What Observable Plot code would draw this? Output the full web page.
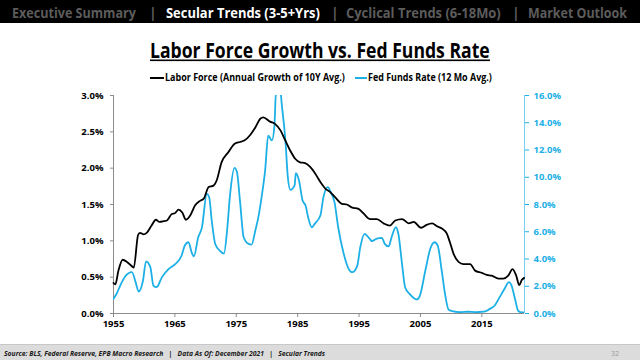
<!DOCTYPE html>
<html>
<head>
<meta charset="utf-8">
<script src="https://cdn.jsdelivr.net/npm/d3@7"></script>
<script src="https://cdn.jsdelivr.net/npm/@observablehq/plot@0.6"></script>
<style>
  html, body { margin: 0; padding: 0; background: #fff; }
  #page { position: relative; width: 640px; height: 360px; overflow: hidden; background: #fff; font-family: "Open Sans", "Noto Sans", sans-serif; }
  #chrome { position: absolute; left: 0; top: 0; }
  #chart { position: absolute; left: 0; top: 85px; }
  #footer { position: absolute; left: 0; top: 344px; width: 640px; height: 16px; background: #dcdcdc; border-top: 1px solid #c8c8c8; }
</style>
</head>
<body>
<div id="page">
  <svg id="chrome" width="640" height="90" xmlns="http://www.w3.org/2000/svg">
    <rect x="0" y="0" width="640" height="23" fill="#000"></rect>
    <g font-family="Open Sans, Noto Sans, sans-serif" font-weight="700" font-size="14">
      <text class="fit" data-w="124" x="12" y="18" fill="#5c5c5c">Executive Summary</text>
      <text x="149" y="18" fill="#5c5c5c">|</text>
      <text class="fit" data-w="154" x="166" y="18" fill="#ffffff">Secular Trends (3-5+Yrs)</text>
      <text x="331" y="18" fill="#5c5c5c">|</text>
      <text class="fit" data-w="155" x="346" y="18" fill="#5c5c5c">Cyclical Trends (6-18Mo)</text>
      <text x="512" y="18" fill="#5c5c5c">|</text>
      <text class="fit" data-w="99" x="528" y="18" fill="#5c5c5c">Market Outlook</text>
    </g>
    <text class="fit" data-w="340" x="150" y="58" font-family="Open Sans, Noto Sans, sans-serif" font-weight="700" font-size="21" fill="#000">Labor Force Growth vs. Fed Funds Rate</text>
    <rect x="150" y="59.5" width="340" height="1.6" fill="#000"></rect>
    <line x1="150" y1="78" x2="164" y2="78" stroke="#000" stroke-width="2"></line>
    <text class="fit" data-w="180" x="165" y="81.5" font-family="Open Sans, Noto Sans, sans-serif" font-weight="700" font-size="10" fill="#000">Labor Force (Annual Growth of 10Y Avg.)</text>
    <line x1="355" y1="78" x2="367" y2="78" stroke="#1cb0e6" stroke-width="2"></line>
    <text class="fit" data-w="124" x="368" y="81.5" font-family="Open Sans, Noto Sans, sans-serif" font-weight="700" font-size="10" fill="#000">Fed Funds Rate (12 Mo Avg.)</text>
  </svg>
  <div id="chart"></div>
  <div id="footer">
    <svg width="640" height="16" xmlns="http://www.w3.org/2000/svg" style="position:absolute;left:0;top:0">
      <text class="fit" data-w="322" x="4" y="11" font-family="Open Sans, Noto Sans, sans-serif" font-weight="700" font-style="italic" font-size="7" fill="#1a1a1a" xml:space="preserve">Source: BLS, Federal Reserve, EPB Macro Research   |   Data As Of: December 2021   |   Secular Trends</text>
      <text x="611" y="11" font-family="Open Sans, Noto Sans, sans-serif" font-size="7" fill="#9a9a9a">32</text>
    </svg>
  </div>
</div>
<script>
// ---- Data ----
const lfYears = [1955.0,1955.3,1955.8,1956.5,1957.2,1958.0,1958.3,1959.0,1959.3,1959.9,1960.4,1961.2,1961.9,1962.5,1963.2,1963.7,1964.5,1965.0,1965.6,1966.2,1966.8,1967.5,1968.3,1969.1,1969.7,1970.5,1971.3,1971.8,1972.6,1973.7,1974.8,1975.6,1976.3,1977.3,1978.1,1978.9,1979.4,1980.5,1981.3,1982.2,1983.0,1983.8,1984.6,1985.4,1986.2,1987.0,1987.9,1988.7,1989.5,1990.3,1991.1,1992.2,1993.0,1993.8,1994.9,1995.7,1996.8,1997.9,1999.0,2000.0,2000.9,2002.0,2003.1,2003.9,2005.1,2006.0,2006.9,2007.7,2008.5,2009.3,2009.8,2010.4,2011.2,2012.0,2013.1,2013.9,2015.0,2015.8,2016.6,2017.7,2018.5,2019.3,2020.0,2020.6,2021.1,2021.5,2021.9];
const lfValues = [0.42,0.40,0.59,0.74,0.71,0.65,0.63,1.08,1.11,1.09,1.11,1.21,1.29,1.26,1.27,1.28,1.37,1.38,1.43,1.39,1.29,1.35,1.49,1.55,1.58,1.74,1.76,1.83,2.08,2.22,2.34,2.36,2.38,2.46,2.56,2.68,2.70,2.64,2.61,2.52,2.38,2.24,2.13,2.08,2.07,2.02,1.92,1.81,1.72,1.67,1.60,1.51,1.50,1.46,1.44,1.38,1.30,1.30,1.24,1.21,1.28,1.30,1.24,1.26,1.18,1.22,1.24,1.20,1.17,1.10,0.98,0.82,0.71,0.68,0.68,0.59,0.56,0.53,0.52,0.48,0.48,0.52,0.61,0.52,0.39,0.46,0.49];

const ffYears = [1955.0,1955.5,1956.1,1956.9,1958.0,1958.6,1959.1,1959.8,1960.3,1961.0,1961.5,1962.0,1962.9,1964.0,1965.0,1966.1,1966.6,1967.2,1967.8,1968.1,1968.8,1969.4,1970.2,1970.6,1971.0,1971.6,1972.4,1973.0,1973.5,1974.0,1974.7,1975.1,1975.6,1976.2,1977.0,1977.5,1978.1,1978.6,1979.2,1979.7,1980.2,1980.8,1981.2,1981.5,1982.2,1982.4,1983.0,1983.4,1983.8,1984.5,1984.7,1985.2,1985.8,1986.3,1986.7,1987.3,1987.8,1988.7,1989.2,1989.9,1990.4,1991.0,1991.6,1992.5,1993.3,1993.9,1994.7,1995.2,1995.9,1996.7,1997.1,1997.9,1998.7,1999.2,1999.8,2000.3,2001.0,2001.4,2002.0,2002.5,2003.3,2004.4,2004.9,2005.8,2006.6,2007.3,2007.8,2008.5,2009.0,2009.6,2010.2,2011.5,2012.8,2014.0,2015.4,2016.3,2017.1,2017.9,2018.7,2019.4,2019.8,2020.4,2020.9,2021.5,2021.9];
const ffValues = [1.08,1.45,2.05,2.72,3.03,2.30,1.61,2.40,3.82,3.40,2.05,1.93,2.67,3.28,3.60,4.26,4.97,5.23,4.40,4.20,5.60,6.30,8.78,8.50,6.83,5.06,4.57,4.40,6.09,8.78,10.69,10.40,8.29,5.60,5.11,5.06,6.09,7.07,8.78,10.50,13.06,12.70,13.67,16.50,16.30,15.40,12.70,10.00,9.07,9.40,10.30,9.80,8.29,7.90,7.07,6.33,6.60,7.19,8.54,9.27,8.90,8.17,6.33,4.38,3.28,3.03,3.50,4.87,5.85,5.50,5.31,5.50,5.55,5.11,4.92,5.60,6.33,5.85,3.65,1.93,1.40,1.03,1.30,3.16,4.75,5.23,5.00,3.03,1.44,0.27,0.18,0.10,0.13,0.10,0.13,0.34,0.59,1.20,1.81,2.30,2.10,1.08,0.22,0.08,0.08];

const xDomain = [1955, 2021.95];
const xTicks = [1955, 1965, 1975, 1985, 1995, 2005, 2015];
const leftTicks = [0, 0.5, 1.0, 1.5, 2.0, 2.5, 3.0];
const rightTicks = [0, 2, 4, 6, 8, 10, 12, 14, 16];
const leftMax = 3, rightMax = 16;

const blue = "#1cb0e6";
const ratio = leftMax / rightMax;

const lf = lfYears.map((y, i) => ({year: y, v: lfValues[i]}));
const ff = ffYears.map((y, i) => ({year: y, v: ffValues[i]}));

// Fit chrome texts horizontally to the reference widths (keeps glyph height).
document.querySelectorAll("text.fit").forEach(el => {
  const target = +el.getAttribute("data-w");
  const natural = el.getComputedTextLength();
  if (natural > 0) {
    const sx = target / natural;
    const x = +el.getAttribute("x");
    el.setAttribute("transform", `translate(${x},0) scale(${sx},1) translate(${-x},0)`);
  }
});

const chart = Plot.plot({
  width: 640,
  height: 253,
  marginLeft: 113,
  marginRight: 116,
  marginTop: 10,
  marginBottom: 25,
  style: {fontFamily: "Open Sans, Noto Sans, sans-serif", fontSize: "9.5px", fontWeight: 700, color: "#000", background: "transparent"},
  x: {domain: xDomain},
  y: {domain: [0, leftMax]},
  marks: [
    Plot.ruleY([0], {stroke: "#8c8c8c"}),
    Plot.ruleX([xDomain[0]], {stroke: "#8c8c8c"}),
    Plot.ruleX([xDomain[1]], {stroke: blue, strokeOpacity: 0.6}),
    Plot.axisX({ticks: xTicks, tickFormat: "d", tickSize: 4, tickPadding: 3, stroke: "#8c8c8c", fill: "#000", label: null}),
    Plot.axisY({ticks: leftTicks, tickFormat: d => d.toFixed(1) + "%", tickSize: 3, tickPadding: 7, stroke: "#8c8c8c", fill: "#000", label: null}),
    Plot.axisY({anchor: "right", ticks: rightTicks.map(v => v * ratio), tickFormat: d => (d / ratio).toFixed(1) + "%", tickSize: 4, tickPadding: 5, stroke: blue, fill: blue, label: null}),
    Plot.line(ff, {x: "year", y: d => d.v * ratio, stroke: blue, strokeWidth: 1.8, curve: "monotone-x", clip: true}),
    Plot.line(lf, {x: "year", y: "v", stroke: "#000", strokeWidth: 1.8, curve: "monotone-x"})
  ]
});
document.getElementById("chart").appendChild(chart);
</script>
</body>
</html>
